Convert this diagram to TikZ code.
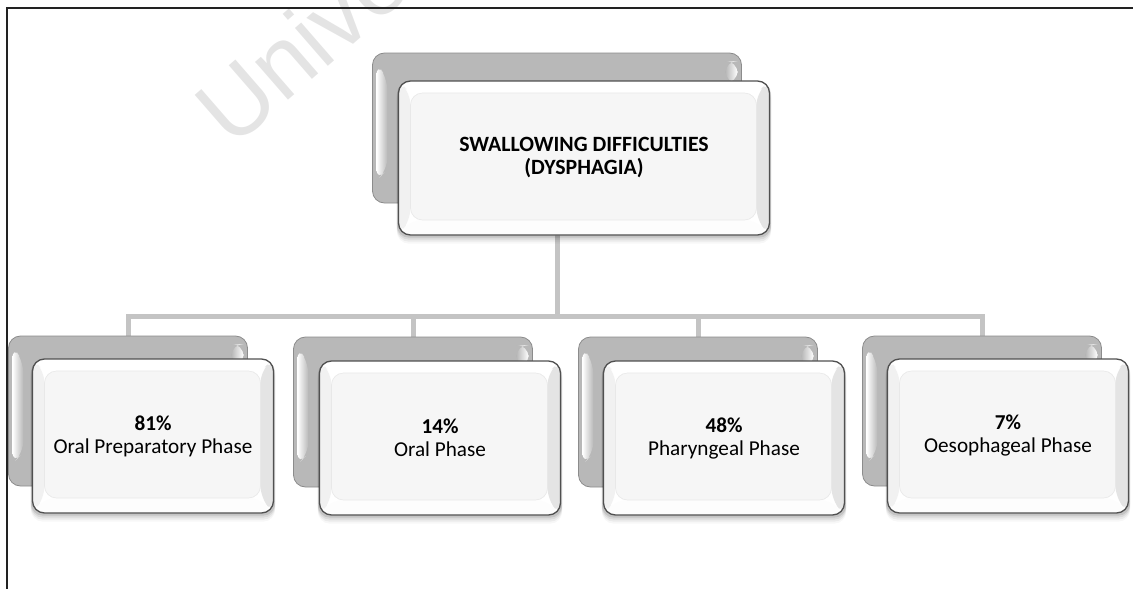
\documentclass[tikz,border=0pt]{standalone}
\usepackage{fontspec}
\setmainfont{Carlito}
\newfontfamily\wmfont{Liberation Sans}
\usetikzlibrary{calc}
\definecolor{frameC}{HTML}{222222}
\definecolor{connC}{HTML}{C4C4C4}
\definecolor{backC}{HTML}{B8B8B8}
\definecolor{backB}{HTML}{8C8C8C}
\definecolor{frontB}{HTML}{505050}
\definecolor{innerC}{HTML}{F6F6F6}
\definecolor{rightC}{HTML}{E4E4E4}
\definecolor{leftC}{HTML}{F1F1F1}
\definecolor{bottomC}{HTML}{FDFDFD}
\definecolor{wmC}{HTML}{E4E4E4}
\pgfdeclarelayer{conns}
\pgfdeclarelayer{backs}
\pgfdeclarelayer{shadows}
\pgfsetlayers{conns,backs,shadows,main}
\tikzset{
  backbox/.style={draw=backB, line width=0.8pt, fill=backC, rounded corners=12pt,
    minimum width=#1, minimum height=150pt, inner sep=0pt,
    path picture={
      \path (path picture bounding box.north west) coordinate (pa)
            (path picture bounding box.south east) coordinate (pb);
      \coordinate (pc) at (pa |- pb);
      \coordinate (pd) at (pa -| pb);
      \fill[left color=white, right color=backC]
        ([shift={(4pt,-10pt)}]pa) -- ([shift={(15pt,-26pt)}]pa) --
        ([shift={(15pt,34pt)}]pc) -- ([shift={(4pt,22pt)}]pc) -- cycle;
      \fill[left color=backC, right color=white]
        ([shift={(-16pt,-8pt)}]pd) -- ([shift={(-4pt,-8pt)}]pd) --
        ([shift={(-4pt,-30pt)}]pd) -- ([shift={(-16pt,-30pt)}]pd) -- cycle;
    }},
  backbox/.default=239pt,
  frontbox/.style={draw=frontB, line width=1.3pt, fill=white, rounded corners=12pt,
    minimum width=#1, minimum height=154pt, inner sep=0pt, align=center,
    font=\fontsize{21.2}{23}\selectfont,
    path picture={
      \path (path picture bounding box.north west) coordinate (pa)
            (path picture bounding box.south east) coordinate (pb);
      \coordinate (pc) at (pa |- pb);
      \coordinate (pd) at (pa -| pb);
      \path ([shift={(12pt,-12pt)}]pa) coordinate (ia)
            ([shift={(-13pt,15pt)}]pb) coordinate (ib);
      \coordinate (ic) at (ia |- ib);
      \coordinate (id) at (ia -| ib);
      \fill[innerC] (ia) rectangle (ib);
      \fill[rightC] (pd) -- (pb) -- (ib) -- (id) -- cycle;
      \fill[leftC] (pa) -- (pc) -- (ic) -- (ia) -- cycle;
      \fill[bottomC] (pc) -- (pb) -- (ib) -- (ic) -- cycle;
      \draw[black!9, line width=0.6pt] (ia) rectangle (ib);
    }},
  frontbox/.default=241pt,
  titlefont/.style={font=\fontsize{21.8}{23}\selectfont\bfseries},
  conn/.style={draw=connC, line width=5pt},
  framel/.style={draw=frameC, line width=1.2pt},
  watermark/.style={rotate=41, text=wmC, anchor=base west,
    font=\wmfont\fontsize{95}{95}\selectfont, inner sep=0pt},
  softshadow/.style={fill=black, opacity=#1, rounded corners=12pt},
}
\begin{document}
\begin{tikzpicture}[x=1pt,y=-1pt]
\useasboundingbox (0,0) rectangle (1133,589);

% watermark
\begin{pgfonlayer}{conns}
\begin{scope}
  \clip (0,0) rectangle (1133,589);
  \node[watermark] (wm) at (232,150) {Unive};
\end{scope}
\end{pgfonlayer}

% back cards
\begin{pgfonlayer}{backs}
  \node[backbox=369pt] (rb) at (557,128) {};
  \node[backbox] (b1) at (128,411) {};
  \node[backbox] (b2) at (413,412) {};
  \node[backbox] (b3) at (698,412) {};
  \node[backbox] (b4) at (982,411) {};
\end{pgfonlayer}

% front cards
\node[frontbox=371pt, titlefont] (f0) at (584,158)
  {SWALLOWING DIFFICULTIES\\(DYSPHAGIA)};
\node[frontbox] (f1) at (153,436) {\textbf{81\%}\\Oral Preparatory Phase};
\node[frontbox] (f2) at (440,438) {\textbf{14\%}\\Oral Phase};
\node[frontbox] (f3) at (724,438) {\textbf{48\%}\\Pharyngeal Phase};
\node[frontbox] (f4) at (1008,436) {\textbf{7\%}\\Oesophageal Phase};

% soft shadows under the front cards
\begin{pgfonlayer}{shadows}
  \foreach \n in {f0,f1,f2,f3,f4}{
    \foreach \d/\o in {2/0.10,4/0.07,6/0.05,8/0.03}{
      \fill[softshadow=\o] ([shift={(-1pt,-\d pt)}]\n.north west)
        rectangle ([shift={(1pt,-\d pt)}]\n.south east);
    }
  }
\end{pgfonlayer}

% connectors
\coordinate (bar) at (0,316);
\begin{pgfonlayer}{conns}
  \draw[conn] (rb.south) -- (rb.south |- bar);
  \foreach \i in {1,...,4}{
    \draw[conn] (rb.south |- bar) -| (b\i.north);
  }
\end{pgfonlayer}

% frame
\coordinate (fa) at (7,589);
\coordinate (fb) at (7,8);
\coordinate (fc) at (1133,8);
\draw[framel] (fa) -- (fb) -- (fc);
\end{tikzpicture}
\end{document}
